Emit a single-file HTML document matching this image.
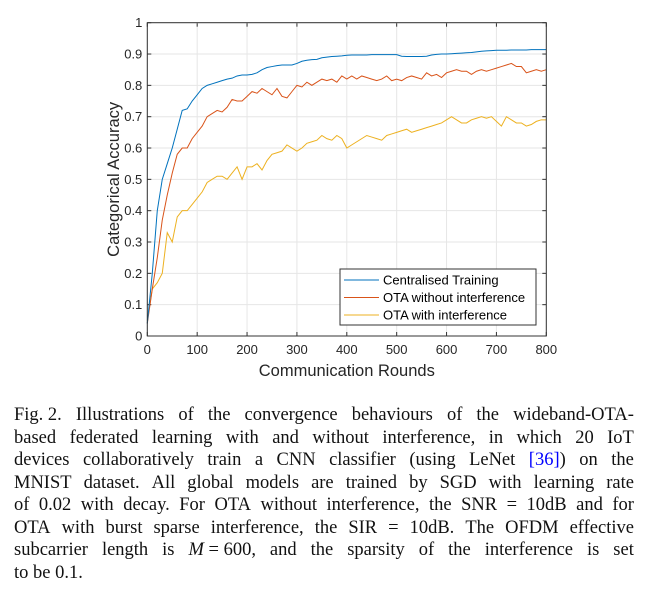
<!DOCTYPE html>
<html><head><meta charset="utf-8"><style>
html,body{margin:0;padding:0;background:#fff;width:653px;height:596px;overflow:hidden}
#cap{position:absolute;left:14px;top:404px;width:620px;font-family:"Liberation Serif",serif;font-size:18.5px;color:#111}
.ln{height:22.5px;line-height:22.5px;white-space:nowrap;display:flex;justify-content:space-between}
.ln span{white-space:pre}
.lnl{height:22.5px;line-height:22.5px}
a{color:#00f;text-decoration:none}
</style></head><body>
<svg id="chart" width="653" height="400" style="position:absolute;left:0;top:0" font-family="Liberation Sans, sans-serif"></svg>
<div id="cap">
<div class="ln"><span>Fig. 2.</span><span>Illustrations</span><span>of</span><span>the</span><span>convergence</span><span>behaviours</span><span>of</span><span>the</span><span>wideband-OTA-</span></div>
<div class="ln"><span>based</span><span>federated</span><span>learning</span><span>with</span><span>and</span><span>without</span><span>interference,</span><span>in</span><span>which</span><span>20</span><span>IoT</span></div>
<div class="ln"><span>devices</span><span>collaboratively</span><span>train</span><span>a</span><span>CNN</span><span>classifier</span><span>(using</span><span>LeNet</span><span><a>[36]</a>)</span><span>on</span><span>the</span></div>
<div class="ln"><span>MNIST</span><span>dataset.</span><span>All</span><span>global</span><span>models</span><span>are</span><span>trained</span><span>by</span><span>SGD</span><span>with</span><span>learning</span><span>rate</span></div>
<div class="ln"><span>of</span><span>0.02</span><span>with</span><span>decay.</span><span>For</span><span>OTA</span><span>without</span><span>interference,</span><span>the</span><span>SNR</span><span>=</span><span>10dB</span><span>and</span><span>for</span></div>
<div class="ln"><span>OTA</span><span>with</span><span>burst</span><span>sparse</span><span>interference,</span><span>the</span><span>SIR</span><span>=</span><span>10dB.</span><span>The</span><span>OFDM</span><span>effective</span></div>
<div class="ln"><span>subcarrier</span><span>length</span><span>is</span><span><i>M</i> = 600,</span><span>and</span><span>the</span><span>sparsity</span><span>of</span><span>the</span><span>interference</span><span>is</span><span>set</span></div>
<div class="lnl">to be 0.1.</div>
</div>
<script>
const rounds=[];for(let r=0;r<=800;r+=10)rounds.push(r);
const centralised=[0.04,0.2,0.4,0.5,0.55,0.6,0.66,0.72,0.725,0.75,0.77,0.79,0.8,0.805,0.81,0.815,0.82,0.823,0.83,0.833,0.833,0.835,0.84,0.85,0.857,0.86,0.863,0.865,0.865,0.865,0.87,0.877,0.88,0.882,0.883,0.888,0.89,0.892,0.893,0.894,0.896,0.897,0.897,0.897,0.897,0.898,0.898,0.898,0.898,0.898,0.898,0.893,0.892,0.892,0.892,0.892,0.893,0.897,0.899,0.9,0.9,0.901,0.902,0.903,0.904,0.905,0.907,0.909,0.91,0.911,0.912,0.912,0.912,0.913,0.913,0.913,0.913,0.914,0.914,0.914,0.914];
const otaNoInterf=[0.04,0.15,0.25,0.37,0.45,0.52,0.58,0.6,0.6,0.63,0.65,0.67,0.7,0.71,0.72,0.715,0.73,0.755,0.75,0.75,0.765,0.78,0.775,0.79,0.78,0.77,0.79,0.765,0.76,0.78,0.8,0.795,0.81,0.8,0.81,0.82,0.815,0.82,0.81,0.83,0.82,0.83,0.82,0.83,0.825,0.82,0.815,0.82,0.83,0.815,0.82,0.815,0.825,0.83,0.825,0.82,0.84,0.83,0.835,0.825,0.84,0.845,0.85,0.845,0.845,0.835,0.845,0.85,0.845,0.85,0.855,0.86,0.865,0.87,0.86,0.86,0.84,0.845,0.85,0.845,0.85];
const otaInterf=[0.05,0.15,0.17,0.2,0.33,0.3,0.38,0.4,0.4,0.42,0.44,0.46,0.49,0.5,0.51,0.51,0.5,0.52,0.54,0.5,0.54,0.54,0.55,0.53,0.56,0.58,0.585,0.59,0.61,0.6,0.59,0.6,0.615,0.62,0.625,0.64,0.63,0.625,0.64,0.63,0.6,0.61,0.62,0.63,0.64,0.635,0.63,0.625,0.64,0.645,0.65,0.655,0.66,0.65,0.655,0.66,0.665,0.67,0.675,0.68,0.69,0.7,0.69,0.68,0.68,0.69,0.695,0.7,0.695,0.7,0.685,0.67,0.7,0.69,0.68,0.68,0.67,0.675,0.685,0.69,0.69];
const xTicks=[0,100,200,300,400,500,600,700,800];
const yTicks=[0,0.1,0.2,0.3,0.4,0.5,0.6,0.7,0.8,0.9,1];
const seriesNames=["Centralised Training","OTA without interference","OTA with interference"];
const colors=["#0072BD","#D95319","#EDB120"];
const L=147.3,R=546.3,T=22.7,B=336;
const sx=v=>L+(v/800)*(R-L), sy=v=>B-v*(B-T);
const svg=document.getElementById('chart');const NS='http://www.w3.org/2000/svg';
function mk(t,a){const e=document.createElementNS(NS,t);for(const k in a)e.setAttribute(k,a[k]);svg.appendChild(e);return e;}
let e=mk('rect',{x:L,y:T,width:R-L,height:B-T,fill:'#fff'});


xTicks.forEach(t=>{const x=sx(t);
 let g=mk('line',{x1:x,x2:x,y1:T,y2:B,stroke:'#e6e6e6','stroke-width':1});
 
 
 mk('line',{x1:x,x2:x,y1:B,y2:B-4,stroke:'#333'});mk('line',{x1:x,x2:x,y1:T,y2:T+4,stroke:'#333'});
 let l=mk('text',{x:x,y:B+18,'text-anchor':'middle','font-size':13,fill:'#262626'});l.textContent=t;
 
 });
yTicks.forEach(t=>{const y=sy(t);
 let g=mk('line',{x1:L,x2:R,y1:y,y2:y,stroke:'#e6e6e6','stroke-width':1});
 
 
 mk('line',{x1:L,x2:L+4,y1:y,y2:y,stroke:'#333'});mk('line',{x1:R,x2:R-4,y1:y,y2:y,stroke:'#333'});
 let l=mk('text',{x:L-5,y:y+4.5,'text-anchor':'end','font-size':13,fill:'#262626'});l.textContent=t;
 
 });
[otaInterf,otaNoInterf,centralised].forEach((s,i)=>{const ci=2-i;
 const p=mk('polyline',{points:s.map((v,j)=>sx(rounds[j])+','+sy(v)).join(' '),fill:'none',stroke:colors[ci],'stroke-width':1});
 
 });
e=mk('rect',{x:L,y:T,width:R-L,height:B-T,fill:'none',stroke:'#333','stroke-width':1});


e=mk('text',{x:(L+R)/2,y:376,'text-anchor':'middle','font-size':16.5,fill:'#262626'});e.textContent='Communication Rounds';


e=mk('text',{x:0,y:0,'text-anchor':'middle','font-size':16.5,fill:'#262626',transform:'translate(119,'+((T+B)/2)+') rotate(-90)'});e.textContent='Categorical Accuracy';


e=mk('rect',{x:340,y:269,width:196,height:56,fill:'#fff',stroke:'#333','stroke-width':1});


seriesNames.forEach((n,i)=>{const y=280+i*17.5;
 let l=mk('line',{x1:344,x2:379,y1:y,y2:y,stroke:colors[i]});
 
 
 let t=mk('text',{x:383,y:y+4.5,'font-size':13,fill:'#000'});t.textContent=n;
 
 });
</script>
</body></html>
